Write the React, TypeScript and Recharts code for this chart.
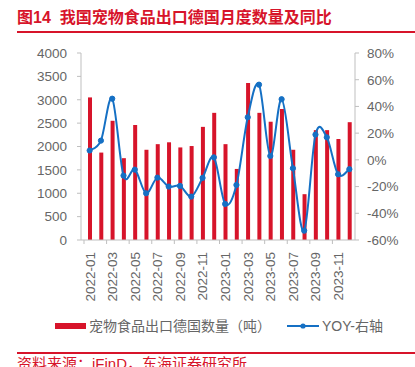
import React from "react";
import { ComposedChart, Bar, Line, XAxis, YAxis } from "recharts";

const months = [
  "2022-01","2022-02","2022-03","2022-04","2022-05","2022-06","2022-07","2022-08","2022-09","2022-10","2022-11","2022-12",
  "2023-01","2023-02","2023-03","2023-04","2023-05","2023-06","2023-07","2023-08","2023-09","2023-10","2023-11","2023-12",
];
const volume = [3050,1870,2550,1750,2460,1930,2050,2090,1980,2010,2420,2720,2050,1520,3360,2720,2530,2800,1930,980,2350,2350,2160,2520];
const yoy = [7,14.4,45.8,-11.8,-7.3,-25,-13.3,-20,-19.5,-27.5,-13.5,1.9,-33,-18.8,31.9,56.3,2.9,45.4,-6.3,-53,18.9,16.9,-10.8,-7];
const leftTicks = [0,500,1000,1500,2000,2500,3000,3500,4000];
const rightTicks = [-60,-40,-20,0,20,40,60,80];

const data = months.map((m, i) => ({ month: m, volume: volume[i], yoy: yoy[i] }));

const RED = "#d7142a";
const BLUE = "#1570c4";
const GRAY = "#666666";
const AXIS = "#bfbfbf";
const FONT = '"Liberation Sans", Arial, "Noto Sans CJK SC", sans-serif';
const BAND = 271 / 24;

// Excel-like smooth curve (Catmull-Rom style Bezier)
function smoothCurve(context: any) {
  let pts: number[][] = [];
  return {
    areaStart() {},
    areaEnd() {},
    lineStart() { pts = []; },
    lineEnd() {
      const n = pts.length;
      if (!n) return;
      context.moveTo(pts[0][0], pts[0][1]);
      const t = 1 / 6;
      for (let i = 0; i < n - 1; i++) {
        const p0 = pts[i - 1] || pts[i];
        const p1 = pts[i];
        const p2 = pts[i + 1];
        const p3 = pts[i + 2] || pts[i + 1];
        context.bezierCurveTo(
          p1[0] + (p2[0] - p0[0]) * t, p1[1] + (p2[1] - p0[1]) * t,
          p2[0] - (p3[0] - p1[0]) * t, p2[1] - (p3[1] - p1[1]) * t,
          p2[0], p2[1]
        );
      }
    },
    point(x: number, y: number) { pts.push([+x, +y]); },
  };
}

const XTick = (props: any) => {
  const { x, y, payload, index } = props;
  const bx = x - BAND / 2;
  return (
    <g>
      <line x1={bx} y1={y} x2={bx} y2={y + 4} stroke={AXIS} />
      {index === 22 && <line x1={x + BAND * 1.5} y1={y} x2={x + BAND * 1.5} y2={y + 4} stroke={AXIS} />}
      <text
        x={x}
        y={y + 12}
        transform={`rotate(-90, ${x}, ${y + 12})`}
        textAnchor="end"
        dy="0.36em"
        fill={GRAY}
        fontSize={13.5}
        fontFamily={FONT}
      >
        {payload.value}
      </text>
    </g>
  );
};

export default function App() {
  return (
    <div style={{ position: "absolute", left: 0, top: 0, width: 415, height: 367, background: "#fff", overflow: "hidden", fontFamily: FONT }}>
      <div style={{ position: "absolute", left: 17, top: 8, fontSize: 16, fontWeight: "bold", color: RED, whiteSpace: "nowrap", lineHeight: "20px" }}>
        <span>图14</span>
        <span style={{ marginLeft: 9 }}>我国宠物食品出口德国月度数量及同比</span>
      </div>
      <div style={{ position: "absolute", left: 17, top: 31, width: 398, height: 1.5, background: RED }} />

      <div style={{ position: "absolute", left: 0, top: 0 }}>
        <ComposedChart width={415} height={310} data={data} margin={{ top: 53, right: 0, bottom: 0, left: 0 }}>
          <XAxis
            dataKey="month"
            interval={1}
            height={70}
            tickSize={0}
            tickMargin={0}
            tick={<XTick />}
            stroke={AXIS}
            padding={{ left: 3, right: 0 }}
          />
          <YAxis
            yAxisId="l"
            width={81}
            domain={[0, 4000]}
            ticks={leftTicks}
            stroke={AXIS}
            tickSize={4}
            tickMargin={10}
            tick={{ fill: GRAY, fontSize: 13.5, fontFamily: FONT }}
            interval={0}
          />
          <YAxis
            yAxisId="r"
            orientation="right"
            width={60}
            domain={[-60, 80]}
            ticks={rightTicks}
            stroke={AXIS}
            tickSize={4}
            tickMargin={8}
            tickFormatter={(v: number) => `${v}%`}
            tick={{ fill: GRAY, fontSize: 13.5, fontFamily: FONT }}
            interval={0}
          />
          <Bar yAxisId="l" dataKey="volume" fill={RED} barSize={4} isAnimationActive={false} />
          <Line
            yAxisId="r"
            dataKey="yoy"
            type={smoothCurve as any}
            stroke={BLUE}
            strokeWidth={2}
            dot={{ r: 2.6, fill: BLUE, stroke: BLUE, strokeWidth: 1 }}
            activeDot={false}
            isAnimationActive={false}
          />
        </ComposedChart>
      </div>

      <div style={{ position: "absolute", left: 55, top: 323, width: 31, height: 6, background: RED }} />
      <div style={{ position: "absolute", left: 89, top: 317, fontSize: 14, color: GRAY, whiteSpace: "nowrap", lineHeight: "18px" }}>
        宠物食品出口德国数量（吨）
      </div>
      <svg style={{ position: "absolute", left: 286, top: 320 }} width={34} height={12}>
        <line x1={1} y1={6} x2={33} y2={6} stroke={BLUE} strokeWidth={2} />
        <circle cx={17} cy={6} r={2.6} fill={BLUE} />
      </svg>
      <div style={{ position: "absolute", left: 322, top: 317, fontSize: 14, color: GRAY, whiteSpace: "nowrap", lineHeight: "18px" }}>
        YOY-右轴
      </div>

      <div style={{ position: "absolute", left: 17, top: 352, width: 398, height: 1.5, background: RED }} />
      <div style={{ position: "absolute", left: 17, top: 355, fontSize: 15, color: RED, whiteSpace: "nowrap", lineHeight: "18px" }}>
        资料来源：iFinD，东海证券研究所
      </div>
    </div>
  );
}
